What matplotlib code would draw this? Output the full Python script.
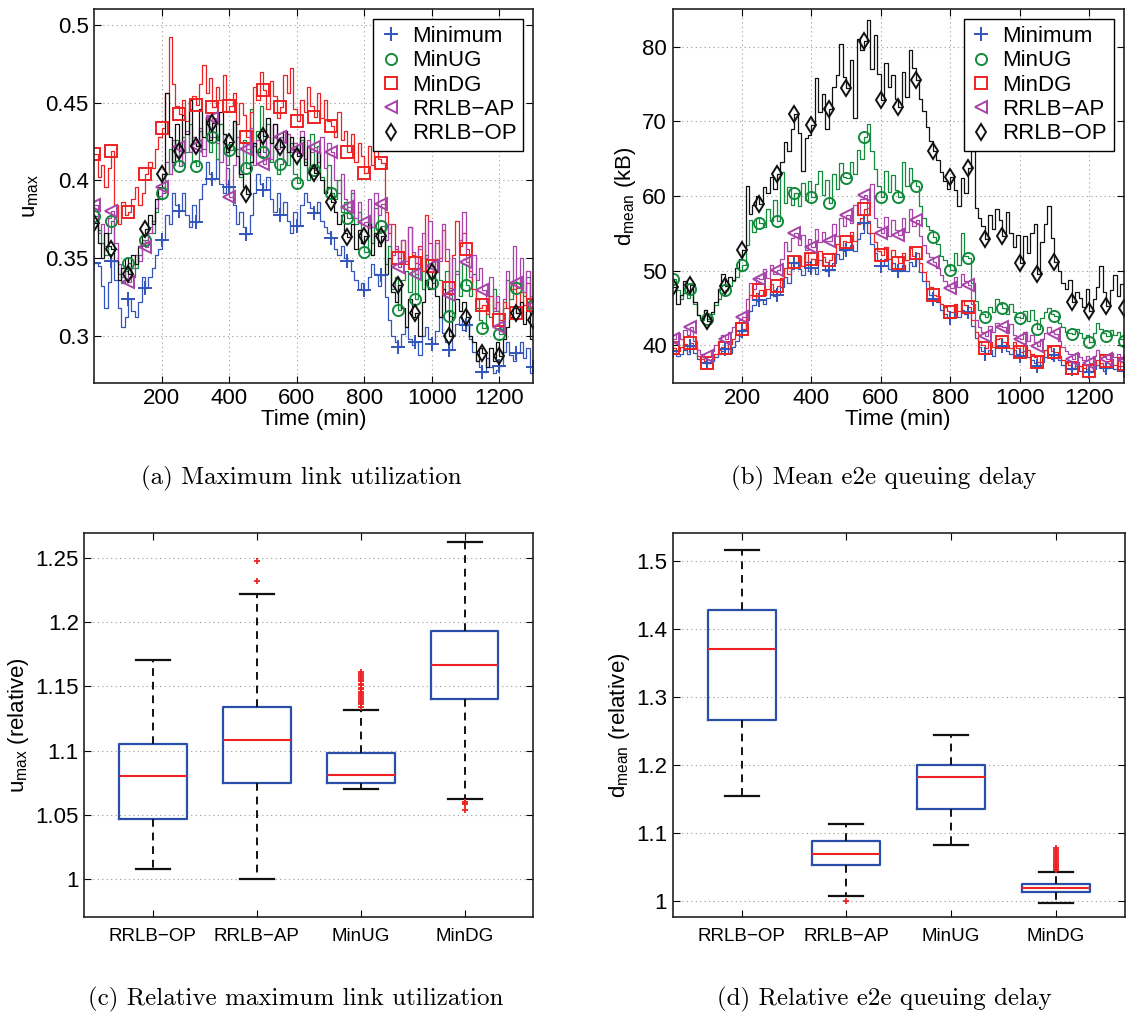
import numpy as np
import matplotlib
matplotlib.use("Agg")
from matplotlib import pyplot as plt
from matplotlib.ticker import FormatStrFormatter

plt.rcParams['font.family'] = ['Liberation Sans', 'DejaVu Sans']
plt.rcParams['mathtext.fontset'] = 'custom'
plt.rcParams['mathtext.rm'] = 'Liberation Sans'
plt.rcParams['mathtext.it'] = 'Liberation Sans:italic'

# time axis, one value every 10 minutes
time_min = np.arange(0, 1301, 10)

# (a) maximum link utilization
umax_minimum = [
    0.347, 0.345, 0.332, 0.318, 0.335, 0.348, 0.336, 0.318, 0.306, 0.312,
    0.3235, 0.316, 0.312, 0.322, 0.338, 0.331, 0.338, 0.344, 0.352, 0.356,
    0.362, 0.378, 0.372, 0.392, 0.384, 0.3805, 0.392, 0.378, 0.370, 0.384,
    0.373, 0.388, 0.398, 0.412, 0.404, 0.401, 0.414, 0.398, 0.392, 0.408,
    0.396, 0.384, 0.372, 0.380, 0.370, 0.3655, 0.378, 0.392, 0.404, 0.398,
    0.394, 0.402, 0.388, 0.380, 0.392, 0.378, 0.386, 0.374, 0.366, 0.380,
    0.371, 0.384, 0.392, 0.386, 0.382, 0.379, 0.386, 0.374, 0.370, 0.366,
    0.363, 0.356, 0.352, 0.358, 0.350, 0.348, 0.342, 0.336, 0.330, 0.334,
    0.3295, 0.338, 0.346, 0.340, 0.332, 0.339, 0.325, 0.310, 0.300, 0.296,
    0.293, 0.301, 0.306, 0.298, 0.294, 0.296, 0.288, 0.300, 0.306, 0.298,
    0.295, 0.303, 0.312, 0.302, 0.296, 0.291, 0.300, 0.308, 0.312, 0.304,
    0.307, 0.298, 0.290, 0.284, 0.280, 0.277, 0.286, 0.280, 0.276, 0.278,
    0.281, 0.290, 0.296, 0.288, 0.284, 0.289, 0.296, 0.286, 0.292, 0.276,
    0.280]
umax_minug = [
    0.377, 0.368, 0.360, 0.352, 0.366, 0.374, 0.356, 0.340, 0.334, 0.342,
    0.347, 0.338, 0.344, 0.352, 0.360, 0.362, 0.370, 0.366, 0.380, 0.388,
    0.392, 0.404, 0.420, 0.410, 0.426, 0.4095, 0.428, 0.418, 0.436, 0.412,
    0.409, 0.432, 0.420, 0.440, 0.418, 0.428, 0.414, 0.436, 0.424, 0.410,
    0.4196, 0.438, 0.420, 0.402, 0.426, 0.408, 0.446, 0.422, 0.432, 0.448,
    0.4185, 0.436, 0.412, 0.428, 0.404, 0.4106, 0.432, 0.410, 0.424, 0.404,
    0.3985, 0.426, 0.412, 0.400, 0.430, 0.407, 0.422, 0.402, 0.392, 0.410,
    0.392, 0.388, 0.400, 0.380, 0.386, 0.3756, 0.392, 0.372, 0.380, 0.360,
    0.354, 0.376, 0.360, 0.382, 0.366, 0.371, 0.346, 0.358, 0.330, 0.338,
    0.3166, 0.336, 0.342, 0.328, 0.344, 0.324, 0.346, 0.330, 0.352, 0.338,
    0.334, 0.348, 0.336, 0.330, 0.342, 0.313, 0.330, 0.342, 0.326, 0.346,
    0.333, 0.326, 0.340, 0.318, 0.310, 0.305, 0.320, 0.312, 0.330, 0.316,
    0.301, 0.318, 0.336, 0.324, 0.330, 0.331, 0.336, 0.326, 0.338, 0.322,
    0.320]
umax_mindg = [
    0.417, 0.402, 0.410, 0.396, 0.408, 0.419, 0.384, 0.372, 0.386, 0.378,
    0.380, 0.388, 0.396, 0.384, 0.392, 0.404, 0.412, 0.408, 0.420, 0.428,
    0.434, 0.456, 0.492, 0.462, 0.448, 0.443, 0.452, 0.438, 0.446, 0.454,
    0.4485, 0.462, 0.474, 0.456, 0.466, 0.447, 0.460, 0.452, 0.468, 0.444,
    0.448, 0.456, 0.436, 0.450, 0.442, 0.428, 0.444, 0.460, 0.452, 0.470,
    0.458, 0.446, 0.464, 0.454, 0.440, 0.4475, 0.468, 0.456, 0.472, 0.446,
    0.438, 0.452, 0.444, 0.460, 0.448, 0.441, 0.456, 0.440, 0.452, 0.438,
    0.435, 0.428, 0.444, 0.426, 0.432, 0.4185, 0.430, 0.412, 0.424, 0.416,
    0.4045, 0.422, 0.410, 0.420, 0.414, 0.411, 0.380, 0.366, 0.372, 0.356,
    0.350, 0.362, 0.346, 0.370, 0.352, 0.347, 0.358, 0.342, 0.378, 0.360,
    0.345, 0.362, 0.350, 0.368, 0.348, 0.331, 0.352, 0.374, 0.358, 0.366,
    0.356, 0.342, 0.330, 0.324, 0.318, 0.320, 0.314, 0.326, 0.318, 0.322,
    0.310, 0.322, 0.318, 0.330, 0.336, 0.315, 0.328, 0.320, 0.334, 0.318,
    0.320]
umax_rrlb_ap = [
    0.384, 0.366, 0.372, 0.358, 0.376, 0.3805, 0.360, 0.346, 0.338, 0.344,
    0.335, 0.344, 0.352, 0.348, 0.362, 0.357, 0.366, 0.374, 0.382, 0.390,
    0.396, 0.412, 0.404, 0.426, 0.416, 0.4217, 0.410, 0.432, 0.418, 0.428,
    0.4224, 0.434, 0.416, 0.442, 0.428, 0.440, 0.424, 0.412, 0.430, 0.398,
    0.3895, 0.410, 0.428, 0.404, 0.424, 0.420, 0.434, 0.410, 0.426, 0.416,
    0.4106, 0.428, 0.414, 0.436, 0.420, 0.428, 0.412, 0.430, 0.418, 0.424,
    0.420, 0.432, 0.414, 0.426, 0.418, 0.4217, 0.412, 0.428, 0.408, 0.424,
    0.4185, 0.400, 0.392, 0.404, 0.388, 0.383, 0.394, 0.376, 0.386, 0.372,
    0.3734, 0.388, 0.370, 0.392, 0.378, 0.385, 0.362, 0.372, 0.352, 0.358,
    0.3445, 0.362, 0.348, 0.370, 0.354, 0.340, 0.356, 0.366, 0.350, 0.374,
    0.345, 0.360, 0.348, 0.372, 0.356, 0.3263, 0.350, 0.340, 0.362, 0.380,
    0.3477, 0.338, 0.352, 0.336, 0.344, 0.3295, 0.322, 0.338, 0.316, 0.326,
    0.306, 0.324, 0.342, 0.334, 0.358, 0.334, 0.350, 0.328, 0.342, 0.326,
    0.320]
umax_rrlb_op = [
    0.3724, 0.360, 0.350, 0.366, 0.358, 0.356, 0.348, 0.336, 0.344, 0.350,
    0.340, 0.352, 0.346, 0.358, 0.364, 0.369, 0.378, 0.372, 0.388, 0.396,
    0.404, 0.456, 0.428, 0.412, 0.436, 0.419, 0.442, 0.430, 0.452, 0.424,
    0.422, 0.446, 0.428, 0.440, 0.426, 0.437, 0.426, 0.444, 0.430, 0.418,
    0.425, 0.438, 0.416, 0.404, 0.396, 0.391, 0.412, 0.424, 0.418, 0.432,
    0.4286, 0.440, 0.424, 0.436, 0.426, 0.4217, 0.432, 0.418, 0.428, 0.420,
    0.4157, 0.428, 0.410, 0.422, 0.408, 0.4045, 0.418, 0.400, 0.392, 0.396,
    0.3863, 0.380, 0.372, 0.378, 0.366, 0.3638, 0.372, 0.356, 0.368, 0.360,
    0.3642, 0.372, 0.352, 0.366, 0.358, 0.3642, 0.340, 0.350, 0.328, 0.322,
    0.333, 0.318, 0.306, 0.324, 0.312, 0.315, 0.300, 0.322, 0.336, 0.330,
    0.341, 0.326, 0.312, 0.330, 0.316, 0.300, 0.312, 0.324, 0.316, 0.322,
    0.312, 0.300, 0.296, 0.284, 0.292, 0.289, 0.280, 0.292, 0.284, 0.296,
    0.287, 0.298, 0.306, 0.312, 0.318, 0.315, 0.322, 0.308, 0.316, 0.298,
    0.310]

# (b) mean e2e queuing delay (kB)
dmean_minimum = [
    39.2, 38.6, 38.9, 39.4, 38.8, 39.9, 39.0, 38.2, 37.8, 37.6,
    37.7, 37.9, 38.4, 38.8, 39.2, 39.5, 39.0, 39.8, 40.6, 41.2,
    41.9, 43.4, 44.6, 45.4, 46.0, 46.1, 45.6, 46.4, 47.2, 46.6,
    46.8, 47.8, 49.2, 48.4, 50.2, 51.0, 50.2, 49.4, 51.2, 50.0,
    50.4, 49.6, 51.4, 50.8, 50.0, 50.1, 51.0, 52.2, 51.6, 52.6,
    52.8, 53.4, 52.6, 54.2, 55.0, 56.4, 55.0, 53.6, 52.4, 51.4,
    50.6, 51.6, 50.2, 51.0, 50.4, 49.9, 50.8, 50.0, 51.2, 50.6,
    51.5, 49.8, 48.6, 47.6, 46.8, 46.2, 45.8, 44.8, 44.2, 43.6,
    43.7, 44.6, 43.8, 44.8, 44.2, 44.4, 42.6, 41.0, 39.8, 39.2,
    38.8, 39.4, 38.6, 39.6, 40.0, 39.9, 39.2, 38.8, 39.4, 38.8,
    38.6, 39.2, 38.4, 38.0, 37.6, 37.2, 37.8, 38.4, 38.8, 38.2,
    38.7, 38.0, 37.4, 37.0, 36.8, 36.8, 37.2, 36.6, 36.4, 36.8,
    36.4, 36.8, 37.4, 37.0, 36.6, 37.0, 37.4, 36.8, 37.2, 36.6,
    36.5]
dmean_minug = [
    48.9, 47.4, 46.2, 47.0, 46.4, 47.5, 45.6, 44.0, 43.4, 44.8,
    43.5, 44.2, 45.4, 46.2, 47.0, 47.4, 48.0, 48.6, 49.2, 50.0,
    50.7, 53.4, 56.8, 55.2, 57.0, 56.4, 55.8, 58.2, 56.6, 59.4,
    56.6, 63.2, 59.0, 61.2, 58.8, 60.4, 58.6, 61.8, 59.4, 62.0,
    59.8, 61.6, 63.4, 60.2, 62.2, 59.1, 63.0, 61.0, 64.4, 62.6,
    62.4, 64.6, 63.0, 66.2, 65.0, 67.9, 69.6, 66.0, 63.6, 61.4,
    59.9, 63.4, 60.6, 62.8, 60.8, 59.9, 64.6, 61.4, 63.8, 62.2,
    61.4, 58.6, 57.0, 56.0, 55.4, 54.5, 53.6, 52.0, 51.4, 50.6,
    50.1, 52.4, 50.8, 55.0, 52.0, 51.7, 48.4, 46.0, 44.8, 44.2,
    43.8, 45.2, 44.4, 46.2, 45.6, 45.0, 44.2, 45.6, 44.4, 43.8,
    43.6, 44.6, 43.2, 44.8, 43.4, 42.2, 43.6, 44.4, 45.0, 44.2,
    43.9, 43.0, 42.4, 41.8, 41.6, 41.5, 42.2, 41.6, 41.0, 41.4,
    40.4, 41.6, 43.0, 42.2, 41.6, 41.2, 42.0, 41.4, 41.8, 40.8,
    40.6]
dmean_mindg = [
    39.6, 39.2, 39.8, 40.2, 39.6, 40.3, 39.6, 38.6, 38.2, 37.9,
    37.6, 38.2, 38.8, 39.4, 39.8, 39.6, 40.2, 40.8, 41.4, 42.0,
    42.2, 44.6, 46.8, 46.2, 47.0, 47.4, 46.8, 47.6, 48.2, 47.4,
    47.9, 49.0, 50.4, 49.6, 51.2, 51.1, 52.0, 50.6, 52.4, 51.2,
    51.6, 50.8, 52.6, 51.8, 51.2, 51.4, 52.4, 53.6, 52.8, 54.0,
    53.9, 55.2, 54.0, 56.2, 57.0, 58.2, 56.6, 55.0, 53.8, 52.6,
    52.1, 53.2, 51.6, 52.8, 51.8, 51.0, 52.4, 51.4, 53.0, 52.0,
    52.4, 51.0, 49.8, 48.6, 47.8, 46.8, 46.6, 45.6, 45.2, 44.6,
    44.4, 45.6, 44.6, 46.0, 45.4, 45.2, 43.4, 41.8, 40.6, 40.0,
    39.6, 40.4, 39.8, 40.8, 41.0, 40.4, 40.0, 39.6, 40.4, 39.6,
    39.1, 40.0, 39.4, 38.8, 38.4, 37.8, 38.6, 39.4, 39.8, 39.2,
    39.1, 38.6, 38.0, 37.6, 37.4, 37.0, 37.8, 37.2, 37.0, 37.4,
    36.6, 37.4, 38.0, 37.6, 37.2, 37.9, 38.2, 37.4, 38.0, 37.2,
    37.5]
dmean_rrlb_ap = [
    40.9, 41.6, 40.8, 42.0, 41.4, 42.4, 40.6, 39.4, 38.8, 38.4,
    38.6, 39.2, 40.0, 40.6, 41.4, 40.9, 41.8, 42.4, 43.0, 43.4,
    43.8, 46.2, 48.4, 47.6, 49.0, 48.9, 50.2, 49.0, 50.8, 49.6,
    50.1, 51.6, 53.8, 52.6, 54.4, 55.0, 53.4, 54.8, 52.8, 54.2,
    53.2, 55.6, 53.8, 55.2, 54.0, 54.0, 56.2, 54.6, 57.0, 56.0,
    57.5, 56.4, 58.8, 57.4, 59.6, 60.1, 58.4, 61.6, 57.0, 55.8,
    55.0, 57.2, 54.6, 56.8, 55.4, 54.8, 57.0, 55.2, 58.2, 56.0,
    56.8, 54.6, 53.4, 52.4, 51.8, 51.2, 50.4, 49.4, 48.6, 48.0,
    47.7, 49.2, 47.8, 49.6, 48.6, 48.1, 45.6, 43.4, 42.4, 41.8,
    41.2, 42.6, 41.8, 43.0, 42.6, 42.4, 41.6, 42.8, 41.4, 41.0,
    40.8, 41.8, 40.6, 41.4, 40.4, 39.9, 40.8, 41.6, 42.4, 41.8,
    41.5, 40.6, 39.8, 39.2, 38.8, 38.2, 39.0, 38.4, 38.0, 38.6,
    37.7, 38.6, 39.4, 38.8, 38.4, 38.2, 39.0, 38.4, 38.8, 38.2,
    38.0]
dmean_rrlb_op = [
    47.8, 45.6, 46.8, 48.6, 47.0, 48.1, 45.8, 44.0, 43.6, 44.8,
    43.2, 44.4, 45.8, 47.6, 49.6, 48.0, 49.2, 48.8, 50.4, 51.6,
    52.8, 61.4, 57.6, 58.8, 60.0, 58.9, 61.2, 60.4, 62.6, 61.0,
    62.9, 64.6, 67.2, 66.0, 69.0, 71.0, 68.4, 63.4, 67.8, 68.2,
    69.5, 75.8, 71.2, 73.6, 69.0, 71.7, 74.6, 76.2, 80.4, 76.0,
    74.4, 78.2, 70.4, 81.0, 79.6, 80.8, 83.6, 77.0, 81.6, 76.4,
    72.8, 77.8, 74.6, 76.2, 73.0, 71.9, 76.6, 73.2, 79.6, 77.2,
    75.6, 73.0, 71.4, 69.2, 67.4, 66.0, 64.8, 63.2, 62.0, 61.0,
    62.6, 60.8, 58.6, 62.4, 60.4, 63.7, 66.0, 58.4, 57.0, 56.0,
    54.2, 57.4, 55.6, 58.2, 56.8, 54.7, 57.8, 55.0, 53.2, 54.8,
    51.0, 54.6, 52.4, 55.0, 56.2, 49.5, 53.8, 56.2, 58.6, 54.4,
    51.1, 50.0, 48.4, 47.6, 48.8, 45.8, 47.2, 46.4, 45.2, 47.6,
    44.6, 46.2, 47.8, 50.6, 47.2, 45.3, 47.4, 49.4, 46.6, 48.2,
    45.0]

series_names = ["Minimum", "MinUG", "MinDG", "RRLB\u2212AP", "RRLB\u2212OP"]
series_colors = ["#3355bb", "#138a3c", "#ee2222", "#a843a8", "#111111"]
series_markers = ["+", "o", "s", "<", "d"]

# (c), (d) relative values, box statistics per algorithm
box_names = ["RRLB\u2212OP", "RRLB\u2212AP", "MinUG", "MinDG"]
umax_whislo = [1.008, 1.000, 1.070, 1.0625]
umax_q1 = [1.047, 1.075, 1.075, 1.1405]
umax_med = [1.080, 1.108, 1.081, 1.1665]
umax_q3 = [1.105, 1.134, 1.098, 1.193]
umax_whishi = [1.171, 1.2225, 1.132, 1.2625]
umax_fliers = [[], [1.232, 1.248],
               [1.134, 1.136, 1.137, 1.139, 1.140, 1.142, 1.143, 1.145, 1.146,
                1.148, 1.149, 1.151, 1.152, 1.154, 1.155, 1.157, 1.158, 1.160, 1.161],
               [1.060, 1.059, 1.058, 1.054]]

dmean_whislo = [1.155, 1.008, 1.083, 0.997]
dmean_q1 = [1.267, 1.053, 1.136, 1.013]
dmean_med = [1.371, 1.069, 1.182, 1.020]
dmean_q3 = [1.429, 1.088, 1.200, 1.026]
dmean_whishi = [1.516, 1.113, 1.245, 1.043]
dmean_fliers = [[], [1.001], [],
                [1.046, 1.048, 1.050, 1.052, 1.054, 1.056, 1.058, 1.061, 1.064,
                 1.067, 1.070, 1.073, 1.076, 1.078]]

FS = 16
FS_BOX = 13.5


def style_axes(ax):
    ax.grid(True, linestyle=(0, (1, 3)), color="#999999", linewidth=0.8)
    ax.tick_params(direction="in", top=True, right=True, length=5, width=0.8,
                   labelsize=FS, pad=4)
    for sp in ax.spines.values():
        sp.set_linewidth(1.2)
        sp.set_color("#222222")


def time_panel(ax, data, ylim, yticks, ylabel, fmt):
    for y, c in zip(data, series_colors):
        ax.plot(time_min, y, color=c, lw=0.9, drawstyle="steps-post")
    for y, c, m, name in zip(data, series_colors, series_markers, series_names):
        y = np.asarray(y)
        ms = 10 if m == "+" else 8
        ax.plot(time_min[::5], y[::5], ls="none", marker=m, ms=ms, mfc="none",
                mec=c, mew=1.4, label=name)
    ax.set_xlim(0, 1300)
    ax.set_ylim(*ylim)
    ax.set_xticks([200, 400, 600, 800, 1000, 1200])
    ax.set_yticks(yticks)
    ax.yaxis.set_major_formatter(FormatStrFormatter(fmt))
    ax.set_xlabel("Time (min)", fontsize=FS, labelpad=0)
    ax.set_ylabel(ylabel, fontsize=FS, labelpad=3)
    style_axes(ax)
    leg = ax.legend(loc="upper right", fontsize=FS, fancybox=False,
                    edgecolor="black", framealpha=1, borderaxespad=0.45,
                    handlelength=1.0, handletextpad=0.45, labelspacing=0.15,
                    borderpad=0.3)
    leg.get_frame().set_linewidth(1.0)


def box_panel(ax, lo, q1, med, q3, hi, fliers, ylim, yticks, ylabel):
    stats = []
    for i in range(len(box_names)):
        stats.append({"whislo": lo[i], "q1": q1[i], "med": med[i], "q3": q3[i],
                      "whishi": hi[i], "fliers": fliers[i], "label": box_names[i]})
    ax.bxp(stats, widths=0.65, showfliers=True,
           boxprops=dict(color="#2a4fa8", linewidth=1.6),
           medianprops=dict(color="#ee2222", linewidth=1.5),
           whiskerprops=dict(color="#111111", linewidth=1.4, linestyle=(0, (4, 3))),
           capprops=dict(color="#111111", linewidth=1.6),
           flierprops=dict(marker="+", markeredgecolor="#ee2222", markersize=5,
                           markeredgewidth=1.3))
    ax.set_xlim(0.34, 4.66)
    ax.set_ylim(*ylim)
    ax.set_yticks(yticks)
    ax.yaxis.set_major_formatter(FormatStrFormatter("%g"))
    ax.set_ylabel(ylabel, fontsize=FS, labelpad=3)
    style_axes(ax)
    ax.xaxis.grid(False)
    ax.tick_params(axis="x", pad=8, labelsize=FS_BOX)


fig = plt.figure(figsize=(11.26, 10.14), dpi=100)

ax_a = fig.add_axes([0.0837, 0.6226, 0.3897, 0.3682])
time_panel(ax_a, [umax_minimum, umax_minug, umax_mindg, umax_rrlb_ap, umax_rrlb_op],
           (0.27, 0.51), [0.3, 0.35, 0.4, 0.45, 0.5],
           "u$_{\\mathregular{max}}$", "%g")

ax_b = fig.add_axes([0.5974, 0.6226, 0.4006, 0.3682])
time_panel(ax_b, [dmean_minimum, dmean_minug, dmean_mindg, dmean_rrlb_ap, dmean_rrlb_op],
           (35, 85), [40, 50, 60, 70, 80],
           "d$_{\\mathregular{mean}}$ (kB)", "%g")

ax_c = fig.add_axes([0.0749, 0.0954, 0.3987, 0.3793])
box_panel(ax_c, umax_whislo, umax_q1, umax_med, umax_q3, umax_whishi, umax_fliers,
          (0.97, 1.27), [1, 1.05, 1.1, 1.15, 1.2, 1.25],
          "u$_{\\mathregular{max}}$ (relative)")

ax_d = fig.add_axes([0.5974, 0.0954, 0.4016, 0.3793])
box_panel(ax_d, dmean_whislo, dmean_q1, dmean_med, dmean_q3, dmean_whishi, dmean_fliers,
          (0.9765, 1.542), [1, 1.1, 1.2, 1.3, 1.4, 1.5],
          "d$_{\\mathregular{mean}}$ (relative)")

cap_font = dict(family="cmr10", size=18, ha="center", va="center")
fig.text(0.268, 0.528, "(a) Maximum link utilization", **cap_font)
fig.text(0.785, 0.528, "(b) Mean e2e queuing delay", **cap_font)
fig.text(0.263, 0.014, "(c) Relative maximum link utilization", **cap_font)
fig.text(0.785, 0.014, "(d) Relative e2e queuing delay", **cap_font)

fig.savefig("out.png", dpi=100)
